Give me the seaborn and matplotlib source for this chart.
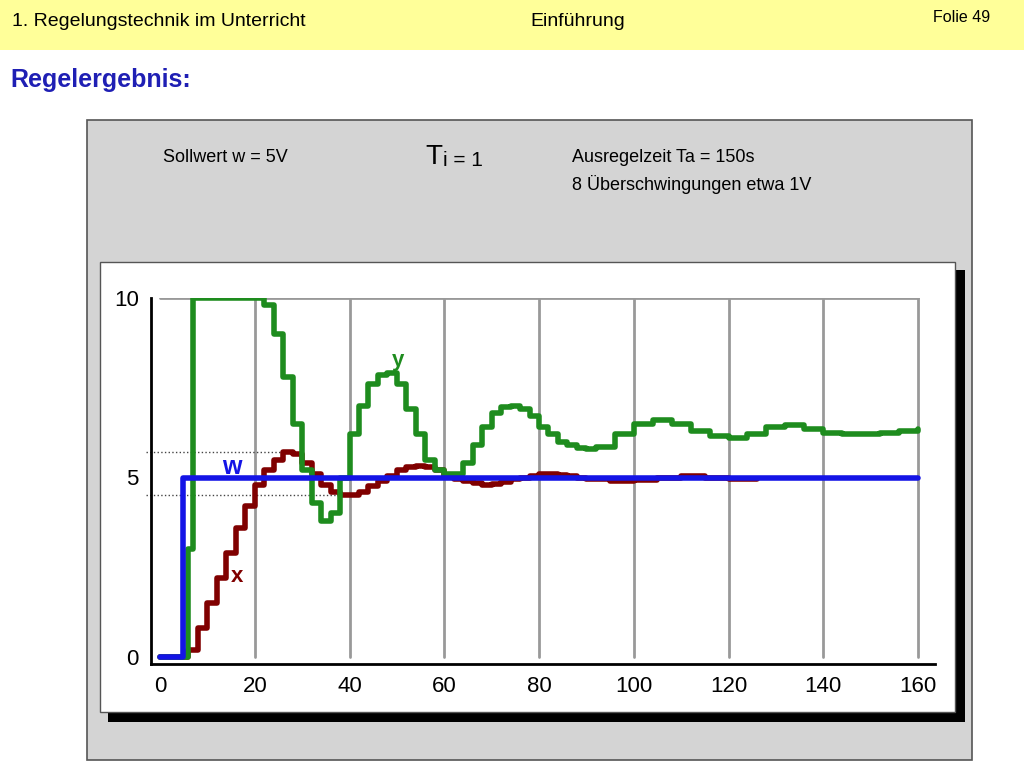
import matplotlib
matplotlib.use("Agg")
import matplotlib.pyplot as plt
from matplotlib.patches import Rectangle
import seaborn as sns

# Zeitachse und Signale
t_x = [0, 2, 4, 5, 6, 8, 10, 12, 14, 16, 18, 20, 22, 24, 26, 28, 30, 32, 34, 36, 38, 40,
       42, 44, 46, 48, 50, 52, 54, 56, 58, 60, 62, 64, 66, 68, 70, 72, 74, 76, 78, 80,
       82, 84, 86, 88, 90, 95, 100, 105, 110, 115, 120, 126]
x_vals = [0, 0, 0, 0, 0.2, 0.8, 1.5, 2.2, 2.9, 3.6, 4.2, 4.8, 5.2, 5.5, 5.7, 5.65, 5.4, 5.1,
          4.8, 4.6, 4.5, 4.5, 4.6, 4.75, 4.9, 5.05, 5.2, 5.3, 5.32, 5.3, 5.2, 5.05, 4.95, 4.9,
          4.85, 4.8, 4.82, 4.88, 4.95, 5.0, 5.05, 5.1, 5.1, 5.08, 5.05, 5.0, 4.95, 4.9, 4.92,
          5.0, 5.05, 5.0, 4.95, 4.95]

t_y = [0, 4, 5, 6, 7, 10, 14, 18, 20, 22, 24, 26, 28, 30, 32, 34, 36, 38, 40, 42, 44, 46,
       48, 50, 52, 54, 56, 58, 60, 62, 64, 66, 68, 70, 72, 74, 76, 78, 80, 82, 84, 86, 88,
       90, 92, 96, 100, 104, 108, 112, 116, 120, 124, 128, 132, 136, 140, 144, 148, 152,
       156, 160]
y_vals = [0, 0, 0, 3, 10, 10, 10, 10, 10, 9.8, 9, 7.8, 6.5, 5.2, 4.3, 3.8, 4, 5, 6.2, 7,
          7.6, 7.85, 7.9, 7.6, 6.9, 6.2, 5.5, 5.2, 5.1, 5.1, 5.4, 5.9, 6.4, 6.8, 6.95, 7,
          6.9, 6.7, 6.4, 6.2, 6, 5.9, 5.82, 5.8, 5.85, 6.2, 6.5, 6.6, 6.5, 6.3, 6.15, 6.1,
          6.2, 6.4, 6.45, 6.35, 6.25, 6.2, 6.2, 6.25, 6.3, 6.35]

t_w = [0, 4.8, 160]
w_vals = [0, 5, 5]

x_ticks = [0, 20, 40, 60, 80, 100, 120, 140, 160]
y_ticks = [0, 5, 10]

sns.set_style("white")
plt.rcParams["font.family"] = "Liberation Sans"
plt.rcParams["text.color"] = "black"
plt.rcParams["xtick.color"] = "black"
plt.rcParams["ytick.color"] = "black"
fig = plt.figure(figsize=(10.24, 7.68), dpi=100)

def px_rect(x0, y0, x1, y1, **kw):
    fig.add_artist(Rectangle((x0 / 1024, 1 - y1 / 768), (x1 - x0) / 1024, (y1 - y0) / 768,
                             transform=fig.transFigure, zorder=-5, **kw))

# Folienrahmen
px_rect(0, 0, 1024, 50, facecolor="#FFFF99", edgecolor="none")
fig.text(12 / 1024, 1 - 22 / 768, "1. Regelungstechnik im Unterricht", fontsize=14, va="center")
fig.text(530 / 1024, 1 - 22 / 768, "Einführung", fontsize=14, va="center")
fig.text(990 / 1024, 1 - 18 / 768, "Folie 49", fontsize=11.5, va="center", ha="right")
fig.text(10 / 1024, 1 - 80 / 768, "Regelergebnis:", fontsize=18, fontweight="bold",
         color="#1F1FB4", va="center")

px_rect(87, 120, 972, 760, facecolor="#D4D4D4", edgecolor="#555555", linewidth=1.2)
fig.text(163 / 1024, 1 - 157 / 768, "Sollwert w = 5V", fontsize=13, va="center")
fig.text(425 / 1024, 1 - 157 / 768, "T", fontsize=20, va="center")
fig.text(443 / 1024, 1 - 160 / 768, "i = 1", fontsize=15, va="center")
fig.text(572 / 1024, 1 - 157 / 768, "Ausregelzeit Ta = 150s", fontsize=13, va="center")
fig.text(572 / 1024, 1 - 185 / 768, "8 Überschwingungen etwa 1V", fontsize=13, va="center")

px_rect(108, 270, 965, 722, facecolor="black", edgecolor="none")
px_rect(100, 262, 955, 712, facecolor="white", edgecolor="#555555", linewidth=1)

# Achsen: x 0..160 -> px 160..918, y 0..10 -> px 657..298
sx = (918 - 160) / 160
sy = (657 - 298) / 10
xl, xr = -2.0, 163.5
yb, yt = -0.2, 10.0
left = 160 + xl * sx
right = 160 + xr * sx
bottom = 657 - yb * sy
top = 657 - yt * sy
ax = fig.add_axes([left / 1024, 1 - bottom / 768, (right - left) / 1024, (bottom - top) / 768])
ax.set_facecolor("none")
ax.set_xlim(xl, xr)
ax.set_ylim(yb, yt)

for xv in x_ticks[1:]:
    ax.plot([xv, xv], [0, 10], color="#999999", lw=2, zorder=1)
ax.plot([0, 160], [10, 10], color="#999999", lw=2, zorder=1)

ax.plot([-3, 27], [5.7, 5.7], ls=":", color="#444444", lw=1, clip_on=False)
ax.plot([-3, 39], [4.5, 4.5], ls=":", color="#444444", lw=1, clip_on=False)

sns.lineplot(x=t_x, y=x_vals, ax=ax, color="#800000", lw=4, drawstyle="steps-post",
             estimator=None, zorder=3)
sns.lineplot(x=t_y, y=y_vals, ax=ax, color="#1E8C1E", lw=4, drawstyle="steps-post",
             estimator=None, zorder=4)
sns.lineplot(x=t_w, y=w_vals, ax=ax, color="#1414E6", lw=4, drawstyle="steps-post",
             estimator=None, zorder=5)

ax.text(13, 5.1, "w", color="#1414E6", fontsize=18, fontweight="bold")
ax.text(49, 8.1, "y", color="#1E8C1E", fontsize=16, fontweight="bold")
ax.text(15, 2.1, "x", color="#800000", fontsize=16, fontweight="bold")

ax.set_xticks(x_ticks)
ax.set_yticks(y_ticks)
ax.tick_params(labelsize=16, length=5, width=1.5, direction="out")
for s in ["top", "right"]:
    ax.spines[s].set_visible(False)
for s in ["left", "bottom"]:
    ax.spines[s].set_linewidth(2)
    ax.spines[s].set_color("black")
ax.spines["left"].set_bounds(yb, 10)

fig.savefig("out.png", dpi=100)
